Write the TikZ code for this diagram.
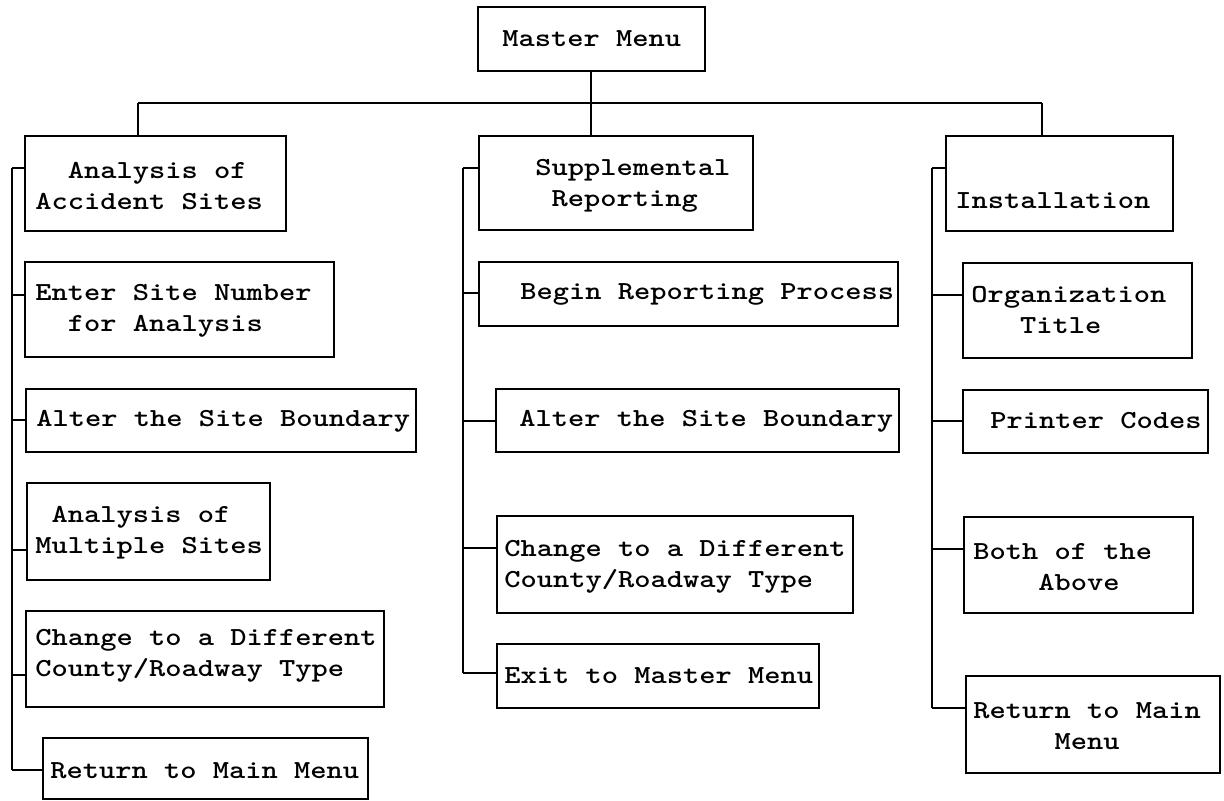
\documentclass[tikz,border=0pt]{standalone}
\usepackage{graphicx}
\usetikzlibrary{fit}
\newcommand\tw[1]{\scalebox{1.19}[1]{#1}}
\tikzset{
  box/.style={draw, line width=1pt, inner sep=0pt},
  lbl/.style={inner sep=0pt, anchor=west, align=left,
    font=\fontsize{13}{15.5}\selectfont\ttfamily\bfseries},
  wire/.style={line width=1pt}
}
\begin{document}
\begin{tikzpicture}[x=0.5pt, y=-0.5pt]
\useasboundingbox (0,0) rectangle (1224,801);
% boxes
\node[box, fit={(478,7)(705,71)}] (master) {};
\node[box, fit={(25,136)(286,231)}] (acc) {};
\node[box, fit={(479,136)(753,230)}] (sup) {};
\node[box, fit={(946,136)(1173,231)}] (inst) {};
\node[box, fit={(25,262)(334,357)}] (enter) {};
\node[box, fit={(26,389)(416,452)}] (alterL) {};
\node[box, fit={(27,483)(270,580)}] (multi) {};
\node[box, fit={(26,611)(384,707)}] (changeL) {};
\node[box, fit={(43,738)(368,799)}] (retL) {};
\node[box, fit={(479,262)(898,326)}] (begin) {};
\node[box, fit={(496,389)(899,452)}] (alterM) {};
\node[box, fit={(497,516)(853,613)}] (changeM) {};
\node[box, fit={(497,644)(819,708)}] (exit) {};
\node[box, fit={(963,263)(1192,358)}] (org) {};
\node[box, fit={(963,390)(1208,453)}] (printer) {};
\node[box, fit={(964,517)(1193,613)}] (both) {};
\node[box, fit={(966,676)(1220,773)}] (retR) {};
% labels
\node[lbl] (t-master) at (502,39) {\tw{Master Menu}};
\node[lbl] (t-acc) at (35,186) {\tw{~~Analysis of}\\\tw{Accident Sites}};
\node[lbl] (t-sup) at (535,186) {\tw{Supplemental}\\\tw{~Reporting}};
\node[lbl] (t-inst) at (955,201) {\tw{Installation}};
\node[lbl] (t-enter) at (35,311) {\tw{Enter Site Number}\\\tw{~~for Analysis}};
\node[lbl] (t-alterL) at (36,421) {\tw{Alter the Site Boundary}};
\node[lbl] (t-multi) at (35,533) {\tw{~Analysis of}\\\tw{Multiple Sites}};
\node[lbl] (t-changeL) at (35,656) {\tw{Change to a Different}\\\tw{County/Roadway Type}};
\node[lbl] (t-retL) at (50,771) {\tw{Return to Main Menu}};
\node[lbl] (t-begin) at (520,294) {\tw{Begin Reporting Process}};
\node[lbl] (t-alterM) at (519,421) {\tw{Alter the Site Boundary}};
\node[lbl] (t-changeM) at (504,567) {\tw{Change to a Different}\\\tw{County/Roadway Type}};
\node[lbl] (t-exit) at (504,676) {\tw{Exit to Master Menu}};
\node[lbl] (t-org) at (971,310) {\tw{Organization}\\\tw{~~~Title}};
\node[lbl] (t-printer) at (990,421) {\tw{Printer Codes}};
\node[lbl] (t-both) at (973,567) {\tw{Both of the}\\\tw{~~~~Above}};
\node[lbl] (t-retR) at (973,726) {\tw{Return to Main}\\\tw{~~~~~Menu}};
% bus
\coordinate (busL) at (138,103);
\coordinate (busM) at (591,103);
\coordinate (busR) at (1042,103);
\draw[wire] (master.south -| busM) -- (busM);
\draw[wire] (busL) -- (busR);
\draw[wire] (busL) -- (busL |- acc.north);
\draw[wire] (busM) -- (busM |- sup.north);
\draw[wire] (busR) -- (busR |- inst.north);
% left spine
\coordinate (l1) at (12,168);
\coordinate (l2) at (12,295);
\coordinate (l3) at (12,420);
\coordinate (l4) at (12,550);
\coordinate (l5) at (12,675);
\coordinate (l6) at (12,770);
\draw[wire] (l1) -- (l6);
\draw[wire] (l1) -- (l1 -| acc.west);
\draw[wire] (l2) -- (l2 -| enter.west);
\draw[wire] (l3) -- (l3 -| alterL.west);
\draw[wire] (l4) -- (l4 -| multi.west);
\draw[wire] (l5) -- (l5 -| changeL.west);
\draw[wire] (l6) -- (l6 -| retL.west);
% middle spine
\coordinate (m1) at (463,168);
\coordinate (m2) at (463,293);
\coordinate (m3) at (463,421);
\coordinate (m4) at (463,548);
\coordinate (m5) at (463,673);
\draw[wire] (m1) -- (m5);
\draw[wire] (m1) -- (m1 -| sup.west);
\draw[wire] (m2) -- (m2 -| begin.west);
\draw[wire] (m3) -- (m3 -| alterM.west);
\draw[wire] (m4) -- (m4 -| changeM.west);
\draw[wire] (m5) -- (m5 -| exit.west);
% right spine
\coordinate (r1) at (932,168);
\coordinate (r2) at (932,295);
\coordinate (r3) at (932,421);
\coordinate (r4) at (932,549);
\coordinate (r5) at (932,708);
\draw[wire] (r1) -- (r5);
\draw[wire] (r1) -- (r1 -| inst.west);
\draw[wire] (r2) -- (r2 -| org.west);
\draw[wire] (r3) -- (r3 -| printer.west);
\draw[wire] (r4) -- (r4 -| both.west);
\draw[wire] (r5) -- (r5 -| retR.west);
\end{tikzpicture}
\end{document}
